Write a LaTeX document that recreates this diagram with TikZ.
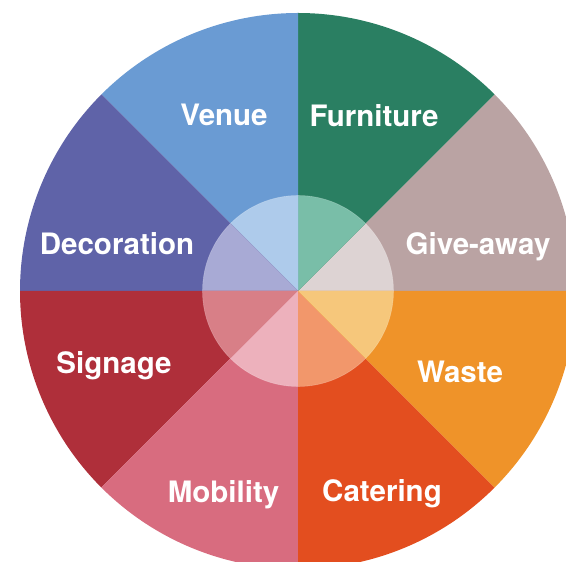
\documentclass[tikz,border=0pt]{standalone}
\usepackage{fontspec}
\setmainfont{TeX Gyre Heros}
\definecolor{givec}{RGB}{186,163,163}
\definecolor{givei}{RGB}{221,211,211}
\definecolor{furnc}{RGB}{42,127,98}
\definecolor{furni}{RGB}{121,190,168}
\definecolor{venuec}{RGB}{106,155,211}
\definecolor{venuei}{RGB}{174,203,235}
\definecolor{decoc}{RGB}{95,99,168}
\definecolor{decoi}{RGB}{168,170,213}
\definecolor{signc}{RGB}{175,47,58}
\definecolor{signi}{RGB}{216,127,135}
\definecolor{mobc}{RGB}{216,108,127}
\definecolor{mobi}{RGB}{237,177,188}
\definecolor{catc}{RGB}{227,78,31}
\definecolor{cati}{RGB}{242,151,107}
\definecolor{wastec}{RGB}{239,147,41}
\definecolor{wastei}{RGB}{246,199,123}
\begin{document}
\begin{tikzpicture}[x=1pt,y=1pt,
  lbl/.style={text=white, font=\bfseries\fontsize{29.5}{31}\selectfont, anchor=base, inner sep=0pt}]
\useasboundingbox (0,0) rectangle (566,562);
\clip (0,0) rectangle (566,562);
\coordinate (c) at (298,271);
\foreach \a/\col/\icol in {0/givec/givei, 45/furnc/furni, 90/venuec/venuei, 135/decoc/decoi, 180/signc/signi, 225/mobc/mobi, 270/catc/cati, 315/wastec/wastei} {
  \fill[\col] (c) -- ++(\a:278) arc[start angle=\a, end angle=\a+45, radius=278] -- cycle;
  \fill[\icol] (c) -- ++(\a:95.5) arc[start angle=\a, end angle=\a+45, radius=95.5] -- cycle;
}
\draw[white, opacity=0.25, line width=0.6pt] (c) circle[radius=95.5];
\node[lbl] (venue) at (224,436.4) {Venue};
\node[lbl] (furniture) at (374,435.6) {Furniture};
\node[lbl] (decoration) at (117,307.1) {Decoration};
\node[lbl] (giveaway) at (478,307) {Give-away};
\node[lbl] (signage) at (114,188) {Signage};
\node[lbl] (waste) at (460,179) {Waste};
\node[lbl] (mobility) at (223.5,59.5) {Mobility};
\node[lbl] (catering) at (382,60) {Catering};
\end{tikzpicture}
\end{document}
